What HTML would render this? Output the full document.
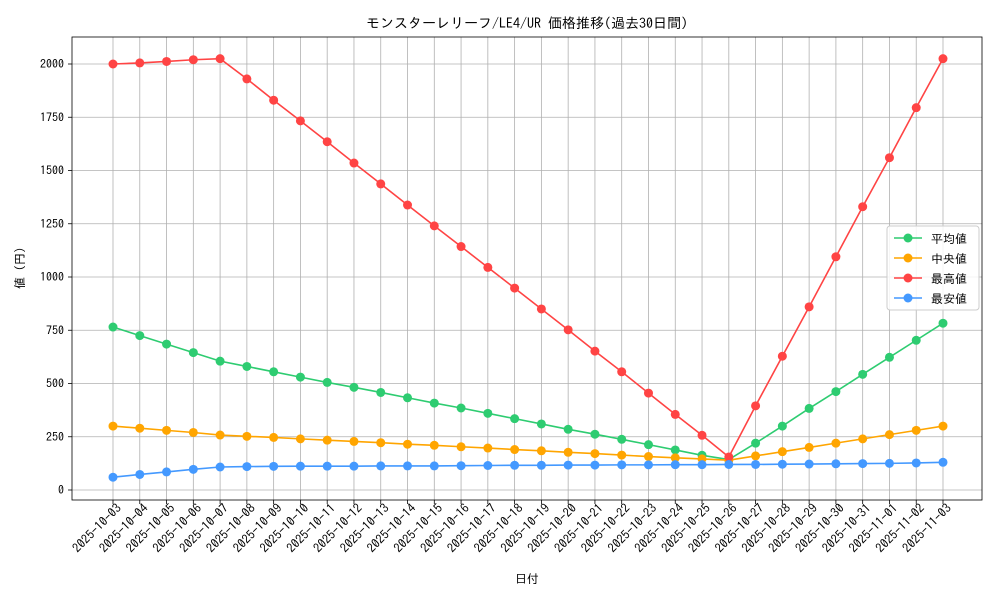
<!DOCTYPE html>
<html><head><meta charset="utf-8"><style>
body{margin:0;background:#fff;font-family:"Liberation Sans","IPAGothic","Noto Sans CJK JP",sans-serif}
svg text{font-family:"IPAGothic","Noto Sans CJK JP",sans-serif;fill:#000}
</style></head><body>
<svg id="chart" width="1000" height="600" xmlns="http://www.w3.org/2000/svg"></svg>
<script>
const dates=["2025-10-03","2025-10-04","2025-10-05","2025-10-06","2025-10-07","2025-10-08","2025-10-09","2025-10-10","2025-10-11","2025-10-12","2025-10-13","2025-10-14","2025-10-15","2025-10-16","2025-10-17","2025-10-18","2025-10-19","2025-10-20","2025-10-21","2025-10-22","2025-10-23","2025-10-24","2025-10-25","2025-10-26","2025-10-27","2025-10-28","2025-10-29","2025-10-30","2025-10-31","2025-11-01","2025-11-02","2025-11-03"];
const avgValues=[765,725,685,645,605,580,555,530,505,482,458,433,408,385,360,335,310,285,262,238,213,188,163,143,220,300,383,462,543,623,703,783];
const medianValues=[300,290,280,270,258,252,247,240,234,228,222,215,210,203,197,190,184,177,171,164,157,151,146,140,160,180,200,220,240,260,280,300];
const maxValues=[2000,2005,2012,2020,2025,1930,1830,1733,1635,1535,1437,1338,1240,1143,1045,948,850,752,652,555,455,355,257,155,395,628,860,1095,1330,1560,1795,2025];
const minValues=[60,73,85,97,108,110,111,112,112,112,113,113,113,114,115,116,116,117,117,118,118,119,119,120,120,121,122,123,124,125,127,130];
const yTicks=[0,250,500,750,1000,1250,1500,1750,2000];
const seriesNames=["平均値","中央値","最高値","最安値"];

const svg=document.getElementById('chart');
const NS="http://www.w3.org/2000/svg";
function mk(t,a,p){const e=document.createElementNS(NS,t);for(const k in a)e.setAttribute(k,a[k]);(p||svg).appendChild(e);return e;}
const L=72,R=982,T=37,B=500;
const x=i=>113+i*(943-113)/(dates.length-1);
const y=v=>490-v*(426/2000);

const grid=mk('g',{});


dates.forEach((d,i)=>{
  mk('line',{x1:x(i),x2:x(i),y1:T,y2:B,stroke:'#b0b0b0','stroke-width':0.8},grid);
  mk('line',{x1:x(i),x2:x(i),y1:B,y2:B+4,stroke:'#000','stroke-width':0.8});
  const ax=x(i)+9, ay=B+9;
  const t=mk('text',{x:ax,y:ay,'font-size':12.5,'text-anchor':'end',transform:`rotate(-45 ${ax} ${ay})`});
  
  
  t.textContent=d;
});
yTicks.forEach(v=>{
  mk('line',{x1:L,x2:R,y1:y(v),y2:y(v),stroke:'#b0b0b0','stroke-width':0.8},grid);
  mk('line',{x1:L-4,x2:L,y1:y(v),y2:y(v),stroke:'#000','stroke-width':0.8});
  const t=mk('text',{x:L-8,y:y(v)+4,'font-size':12,'text-anchor':'end'});
  
  
  t.textContent=v;
});
const frame=mk('rect',{x:L,y:T,width:R-L,height:B-T,fill:'none',stroke:'#000','stroke-width':0.8});



const series=[[avgValues,'#2ecc71'],[medianValues,'#ffa500'],[maxValues,'#ff4444'],[minValues,'#4499ff']];
series.forEach(([vals,c],si)=>{
  const g=mk('g',{});
  
  
  mk('polyline',{points:vals.map((v,i)=>x(i)+','+y(v)).join(' '),fill:'none',stroke:c,'stroke-width':1.6},g);
  vals.forEach((v,i)=>{
    const p=mk('circle',{cx:x(i),cy:y(v),r:4.5,fill:c},g);
    
    
  });
});

const lg=mk('g',{});


mk('rect',{x:887,y:226,width:92,height:84,rx:3,fill:'#fff','fill-opacity':0.85,stroke:'#ccc'},lg);
series.forEach(([v,c],i)=>{
  const yy=238+i*20;
  const e=mk('g',{},lg);
  
  
  mk('line',{x1:894,x2:922,y1:yy,y2:yy,stroke:c,'stroke-width':1.6},e);
  mk('circle',{cx:908,cy:yy,r:4.5,fill:c},e);
  const t=mk('text',{x:931,y:yy+5,'font-size':12},e);
  t.textContent=seriesNames[i];
});

const title=mk('text',{x:527,y:28,'font-size':14,'text-anchor':'middle'});


title.textContent='モンスターレリーフ/LE4/UR 価格推移(過去30日間)';
const xt=mk('text',{x:527,y:583,'font-size':12,'text-anchor':'middle'});


xt.textContent='日付';
const yt=mk('text',{x:24,y:268,'font-size':12,'text-anchor':'middle',transform:'rotate(-90 24 268)'});


yt.textContent='値 (円)';
</script>
</body></html>
